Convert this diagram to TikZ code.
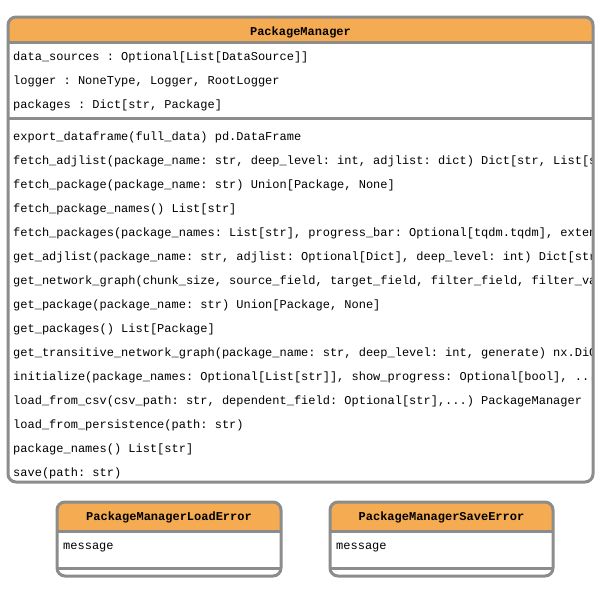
\documentclass[tikz,border=0pt]{standalone}
\usepackage{fontspec}
\setmonofont{Liberation Mono}
\usetikzlibrary{positioning}
\definecolor{cA}{HTML}{8C8C8C}
\definecolor{cB}{HTML}{F5AB52}
\newcommand{\pmdots}{...}
\tikzset{
  frame/.style={draw=cA,line width=3pt,rounded corners=8pt},
  sep/.style={draw=cA,line width=3pt},
  head/.style={font=\fontsize{12}{14}\selectfont\ttfamily\bfseries,inner sep=0pt,anchor=base},
  member/.style={font=\fontsize{12}{14}\selectfont\ttfamily,inner sep=0pt,anchor=base west},
}
\begin{document}
\begin{tikzpicture}[x=1pt,y=-1pt]
  \useasboundingbox[fill=white] (0,0) rectangle (600,600);
  % PackageManager
  \coordinate (pmNW) at (8,17);\coordinate (pmSE) at (593,482);
  \begin{scope}
    \clip[rounded corners=8pt] (pmNW) rectangle (pmSE);
    \fill[cB] (pmNW) rectangle (593,42);
    \node[head] (pm) at (300.5,35) {PackageManager};
    \node[member] (a1) at (13,60) {data\_sources : Optional[List[DataSource]]};
    \node[member] (a2) at (13,84) {logger : NoneType, Logger, RootLogger};
    \node[member] (a3) at (13,108) {packages : Dict[str, Package]};
    \foreach \t [count=\i] in {
      {export\_dataframe(full\_data) pd.DataFrame},
      {fetch\_adjlist(package\_name: str, deep\_level: int, adjlist: dict) Dict[str, List[str]]},
      {fetch\_package(package\_name: str) Union[Package, None]},
      {fetch\_package\_names() List[str]},
      {fetch\_packages(package\_names: List[str], progress\_bar: Optional[tqdm.tqdm], extend},
      {get\_adjlist(package\_name: str, adjlist: Optional[Dict], deep\_level: int) Dict[str, List]},
      {get\_network\_graph(chunk\_size, source\_field, target\_field, filter\_field, filter\_value},
      {get\_package(package\_name: str) Union[Package, None]},
      {get\_packages() List[Package]},
      {get\_transitive\_network\_graph(package\_name: str, deep\_level: int, generate) nx.DiGraph},
      {initialize(package\_names: Optional[List[str]], show\_progress: Optional[bool], \pmdots},
      {load\_from\_csv(csv\_path: str, dependent\_field: Optional[str],\pmdots) PackageManager},
      {load\_from\_persistence(path: str)},
      {package\_names() List[str]},
      {save(path: str)}}
      \node[member] (m\i) at (13,{136+24*(\i-1)+4}) {\t};
  \end{scope}
  \draw[sep] (8,42) -- (593,42);
  \draw[sep] (8,118) -- (593,118);
  \draw[frame] (pmNW) rectangle (pmSE);
  % error classes
  \foreach \x/\w/\n in {57/224/Load,330/223/Save}{
    \coordinate (e\n NW) at (\x,502);\coordinate (e\n SE) at (\x+\w,576);
    \begin{scope}
      \clip[rounded corners=8pt] (e\n NW) rectangle (e\n SE);
      \fill[cB] (e\n NW) rectangle (\x+\w,531);
    \end{scope}
    \node[head] (e\n) at (\x+\w/2,520) {PackageManager\n Error};
    \node[member] (e\n m) at (\x+6,549) {message};
    \draw[sep] (\x,531) -- (\x+\w,531);
    \draw[sep] (\x,568) -- (\x+\w,568);
    \draw[frame] (e\n NW) rectangle (e\n SE);
  }
\end{tikzpicture}
\end{document}
